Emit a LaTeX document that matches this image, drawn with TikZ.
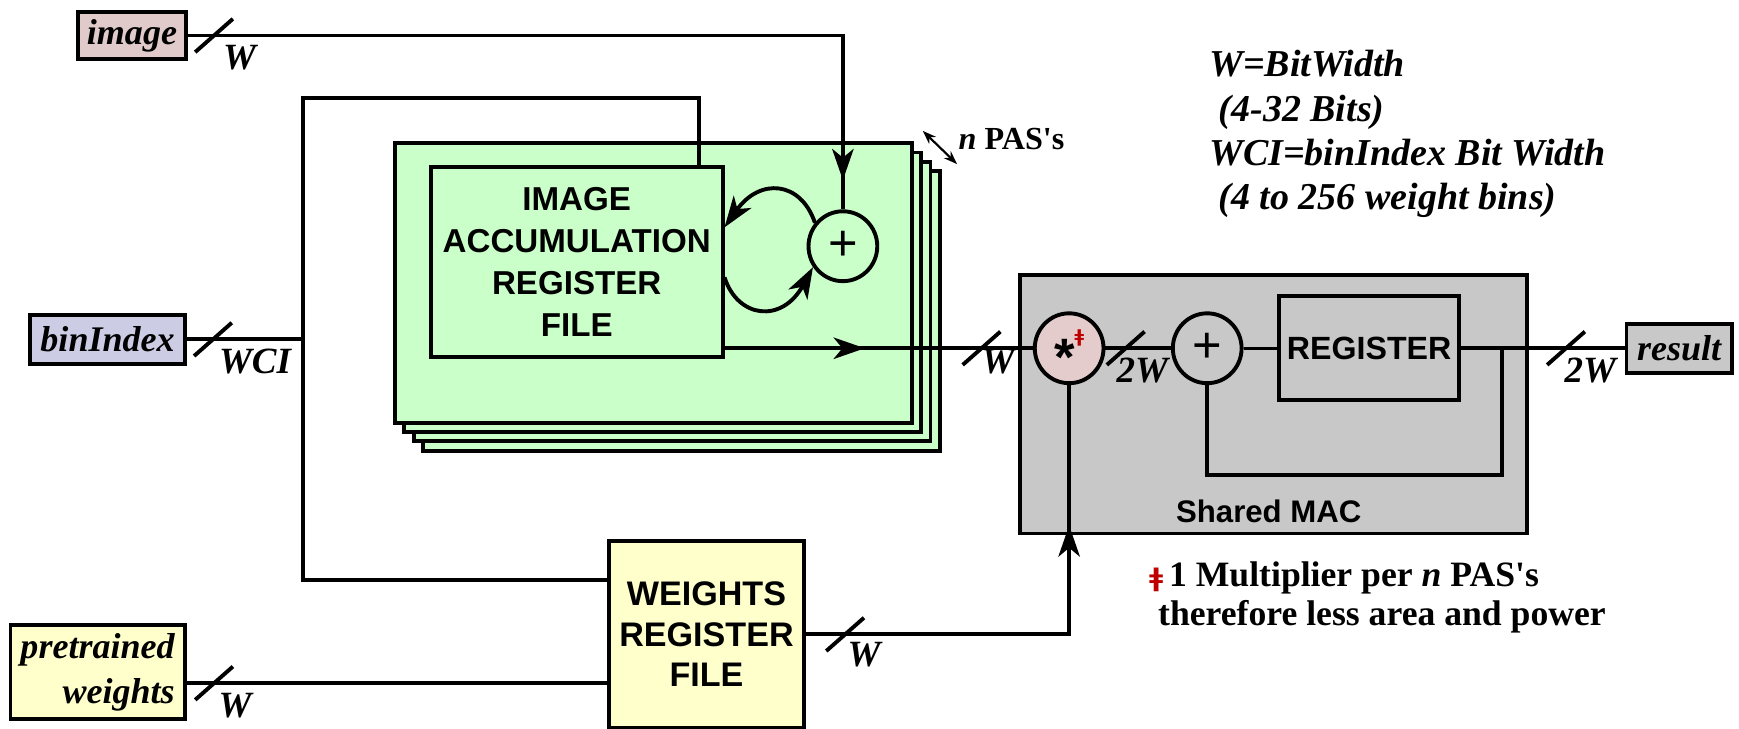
\documentclass[tikz,border=0pt]{standalone}
\usepackage{fontspec}
\setmainfont{Liberation Serif}
\setsansfont{Liberation Sans}
\newfontfamily\markfont{DejaVu Sans}
\usetikzlibrary{positioning, calc, arrows.meta, shapes.geometric, decorations.markings}
\definecolor{imgpink}{RGB}{224,202,202}
\definecolor{binblue}{RGB}{204,204,228}
\definecolor{wtyellow}{RGB}{255,255,204}
\definecolor{pasgreen}{RGB}{202,255,202}
\definecolor{macgray}{RGB}{200,200,200}
\definecolor{mulpink}{RGB}{228,204,204}
\definecolor{markred}{RGB}{190,0,0}

\begin{document}
\begin{tikzpicture}[
  x=0.02cm, y=-0.02cm,
  wire/.style={line width=2pt},
  thinwire/.style={line width=1.4pt},
  arr/.style={line width=2pt, -{Stealth[length=16pt, width=11pt, inset=4.5pt]}},
  midarrow/.style={postaction={decorate}, decoration={markings,
      mark=at position #1 with {\arrow{Stealth[length=16pt, width=11pt, inset=4.5pt]}}}},
  boxsize/.style 2 args={minimum width=#1*0.02cm, minimum height=#2*0.02cm},
  iobox/.style={draw, line width=2pt, inner sep=0pt,
                font=\fontsize{18.5}{23}\selectfont\bfseries\itshape},
  block/.style={draw, line width=2pt, inner sep=0pt, align=center,
                font=\fontsize{17}{21.6}\selectfont\sffamily\bfseries},
  pasbox/.style={draw, line width=2pt, fill=pasgreen, boxsize={466}{252}},
  opnode/.style={draw, ellipse, line width=2pt, inner sep=0pt, boxsize={62}{63},
                 font=\fontsize{26}{26}\selectfont\sffamily},
  lbl/.style={inner sep=0pt, font=\fontsize{19}{20}\selectfont\bfseries\itshape},
  buswidth/.pic={\draw[line width=2pt] (-17,15) -- (17,-15);}
]
\useasboundingbox (0,0) rectangle (1568,657);

%% ---- inputs ----
\node[iobox, fill=imgpink, boxsize={97}{43}] (img) at (119,32) {image};
\node[iobox, fill=binblue, boxsize={140}{44}] (bin) at (97,306) {binIndex};
\node[iobox, fill=wtyellow, boxsize={157}{85}, align=right] (ptw) at (88,606) {pretrained\\weights};

%% ---- stacked PAS's ----
\foreach \k in {3,2,1}
  \node[pasbox] (pas\k) at (589+8.5*\k, 255+8.5*\k) {};
\node[pasbox] (pas) at (589,255) {};
\node[block, fill=pasgreen, boxsize={263}{171}] (iar) at (520,236)
  {IMAGE\\ACCUMULATION\\REGISTER\\FILE};
\node[opnode, fill=pasgreen] (acc) at (760,222) {+};

\coordinate (na) at (832,118);
\coordinate (nb) at (863,148);
\draw[line width=1.1pt, {Stealth[length=7pt, width=5pt]}-{Stealth[length=7pt, width=5pt]}] (na) -- (nb);
\node[anchor=base west, inner sep=0pt, font=\fontsize{16.5}{18}\selectfont\bfseries] (npas)
  at (864,135) {\textit{n} PAS\textquotesingle s};

%% ---- weights register file ----
\node[block, fill=wtyellow, boxsize={176}{168}, font=\fontsize{17.5}{20.8}\selectfont\sffamily\bfseries]
  (wrf) at (637,572) {WEIGHTS\\REGISTER\\FILE};

%% ---- shared MAC ----
\node[draw, line width=2pt, fill=macgray, boxsize={457}{233}] (mac) at (1148,364.5) {};
\node[inner sep=0pt, font=\fontsize{16}{16}\selectfont\sffamily\bfseries] (maclbl) at (1144,461) {Shared MAC};
\node[opnode, fill=mulpink, text height=0pt, text depth=0pt, font=\fontsize{27}{27}\selectfont\sffamily\bfseries]
  (mul) at (964,314) {\raisebox{-14pt}{*}\raisebox{3pt}{\markfont\fontsize{9}{9}\selectfont\color{markred}ǂ}};
\node[opnode, fill=macgray] (add) at (1088.5,314) {+};
\node[block, fill=macgray, boxsize={162}{94}, font=\fontsize{16.5}{18}\selectfont\sffamily\bfseries]
  (reg) at (1234.5,314) {REGISTER};
\node[iobox, fill=macgray, boxsize={95}{44}] (res) at (1514,314) {result};
\coordinate (fbk) at (1354,314);

%% ---- buses ----
\draw[wire, midarrow=-15pt] (img.east) -| (acc.north);
\pic at (193,32) {buswidth};
\node[lbl] (wimg) at (216,52) {W};

\coordinate (tap) at (273.5,306);
\draw[wire] (bin.east) -- (tap);
\pic at (192,306) {buswidth};
\node[lbl] (wbin) at (230,326) {WCI};
\draw[wire] ($(iar.north)+(110,0)$) -- ++(0,-60) -| (tap) |- (wrf.west |- 0,523);

\draw[wire] (ptw.east |- 0,616) -- (wrf.west |- 0,616);
\pic at (193,616) {buswidth};
\node[lbl] (wptw) at (212,636) {W};

\draw[arr] (acc.140) .. controls (722,163) and (685,160) .. ($(iar.east)+(0,-31)$);
\draw[arr] ($(iar.east)+(0,14)$) .. controls (665,287) and (705,292) .. (acc.215);

\draw[wire, midarrow=72pt] (iar.east |- mul.west) -- (mul.west);
\pic at (885,314) {buswidth};
\node[lbl] (wiar) at (900,326) {W};

\draw[wire, midarrow=-72pt] (wrf.east) -| (mul.south);
\pic at (762,572) {buswidth};
\node[lbl] (wwrf) at (779,590) {W};

\draw[wire] (mul.east) -- (add.west);
\pic at (1015,314) {buswidth};
\node[lbl] (wmul) at (1030,334) {2W};
\draw[thinwire] (add.east) -- (reg.west);
\draw[wire] (reg.east) -- (res.west);
\draw[wire] (fbk) -- ++(0,114) -| (add.south);
\pic at (1412,314) {buswidth};
\node[lbl] (wres) at (1434,334) {2W};

%% ---- notes ----
\node[anchor=north west, align=left, inner sep=0pt, font=\fontsize{19.5}{22.8}\selectfont\bfseries\itshape]
  (legend) at (1090,45) {W=BitWidth\\\ (4-32 Bits)\\WCI=binIndex Bit Width\\\ (4 to 256 weight bins)};
\node[anchor=north west, align=left, inner sep=0pt, font=\fontsize{18.3}{20}\selectfont\bfseries]
  (note) at (1036,506) {{\markfont\fontsize{13}{13}\selectfont\color{markred}ǂ}\,1 Multiplier per \textit{n} PAS\textquotesingle s\\
  \hspace{4.5pt}therefore less area and power};

\end{tikzpicture}
\end{document}
